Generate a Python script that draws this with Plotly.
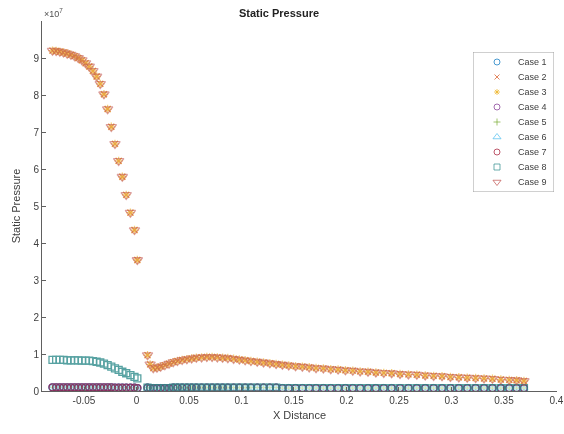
import plotly.graph_objects as go

# Static pressure along the channel, in units of 1e7 Pa (shown as "x10^7" on the axis)
x_upstream = [-0.0800, -0.0765, -0.0730, -0.0695, -0.0660, -0.0625, -0.0590, -0.0555,
              -0.0520, -0.0485, -0.0450, -0.0415, -0.0380, -0.0345, -0.0310, -0.0275,
              -0.0240, -0.0205, -0.0170, -0.0135, -0.0098, -0.0058, -0.0019, 0.0008]

x_downstream = [0.0105, 0.013, 0.016, 0.0195, 0.023, 0.027, 0.031, 0.035, 0.039, 0.0435,
                0.048, 0.0525, 0.057, 0.062, 0.067, 0.072, 0.077, 0.082, 0.087, 0.0925,
                0.098, 0.1035, 0.109, 0.115, 0.121, 0.127, 0.133, 0.139, 0.145, 0.1515,
                0.158, 0.1645, 0.171, 0.178, 0.185, 0.192, 0.199, 0.206, 0.213, 0.2205,
                0.228, 0.2355, 0.243, 0.251, 0.259, 0.267, 0.275, 0.283, 0.291, 0.299,
                0.307, 0.315, 0.323, 0.331, 0.339, 0.347, 0.355, 0.362, 0.369]

# High-pressure cases (2, 3, 9)
p_high_up = [9.20, 9.19, 9.17, 9.15, 9.12, 9.09, 9.05, 9.00, 8.94, 8.86, 8.77, 8.65,
             8.50, 8.30, 8.02, 7.62, 7.14, 6.68, 6.22, 5.79, 5.30, 4.82, 4.35, 3.54]
p_high_down = [0.97, 0.72, 0.62, 0.63, 0.66, 0.70, 0.74, 0.78, 0.81, 0.84,
               0.86, 0.88, 0.90, 0.91, 0.92, 0.92, 0.91, 0.90, 0.89, 0.87,
               0.85, 0.83, 0.81, 0.79, 0.77, 0.75, 0.73, 0.71, 0.69, 0.67,
               0.66, 0.64, 0.62, 0.61, 0.59, 0.58, 0.56, 0.55, 0.53, 0.52,
               0.50, 0.49, 0.48, 0.46, 0.45, 0.44, 0.42, 0.41, 0.40, 0.38,
               0.37, 0.36, 0.35, 0.34, 0.33, 0.31, 0.30, 0.29, 0.27]

# Intermediate case (8)
p_mid_up = [0.84, 0.84, 0.84, 0.84, 0.83, 0.83, 0.83, 0.83, 0.82, 0.82, 0.82, 0.81,
            0.79, 0.77, 0.74, 0.70, 0.66, 0.61, 0.57, 0.52, 0.48, 0.43, 0.38, 0.34]

# Low-pressure cases (1, 4, 5, 6, 7)
p_low_up = [0.10, 0.10, 0.10, 0.10, 0.10, 0.10, 0.10, 0.10, 0.10, 0.10, 0.10, 0.10,
            0.10, 0.10, 0.10, 0.10, 0.10, 0.09, 0.09, 0.09, 0.09, 0.09, 0.09, 0.08]
p_low_down = [0.09, 0.08, 0.08, 0.08, 0.08, 0.08, 0.08, 0.09, 0.09, 0.09,
              0.09, 0.09, 0.09, 0.09, 0.09, 0.09, 0.09, 0.09, 0.09, 0.09,
              0.09, 0.09, 0.09, 0.09, 0.09, 0.09, 0.09, 0.08, 0.08, 0.08,
              0.08, 0.08, 0.08, 0.08, 0.08, 0.08, 0.08, 0.08, 0.08, 0.08,
              0.08, 0.08, 0.08, 0.08, 0.08, 0.08, 0.08, 0.08, 0.08, 0.08,
              0.08, 0.08, 0.08, 0.08, 0.08, 0.08, 0.08, 0.08, 0.08]

case_names = ["Case 1", "Case 2", "Case 3", "Case 4", "Case 5",
              "Case 6", "Case 7", "Case 8", "Case 9"]
case_colors = ["#0072BD", "#D95319", "#EDB120", "#7E2F8E", "#77AC30",
               "#4DBEEE", "#A2142F", "#2E8B8B", "#C0504D"]
case_symbols = ["circle-open", "x-thin-open", "asterisk-open", "circle-open", "cross-thin-open",
                "triangle-up-open", "circle-open", "square-open", "triangle-down-open"]
case_sizes = [7, 6, 7, 7, 5, 7, 7, 7, 9]
case_opacity = [0.75, 0.6, 0.6, 0.75, 0.35, 0.4, 0.55, 0.8, 0.55]

case_up = [p_low_up, p_high_up, p_high_up, p_low_up, p_low_up,
           p_low_up, p_low_up, p_mid_up, p_high_up]
case_down = [p_low_down, p_high_down, p_high_down, p_low_down, p_low_down,
             p_low_down, p_low_down, p_low_down, p_high_down]

FONT = "Liberation Sans, Arial, sans-serif"
axis_font = dict(family=FONT, size=10, color="#404040")

fig = go.Figure()
for name, color, sym, size, op, up, down in zip(case_names, case_colors, case_symbols,
                                                case_sizes, case_opacity, case_up, case_down):
    fig.add_trace(go.Scatter(
        x=x_upstream + x_downstream,
        y=up + down,
        mode="markers",
        name=name,
        showlegend=False,
        opacity=op,
        marker=dict(symbol=sym, size=size, color=color,
                    line=dict(color=color, width=1.3)),
    ))

# Compact legend box drawn on its own hidden axes (pixel-like coordinates)
LEG_LEFT, LEG_RIGHT, LEG_TOP, LEG_BOTTOM = 473, 554, 52, 192
PLOT_L, PLOT_R, PLOT_T, PLOT_B = 42, 557, 21, 391
row_y = [62 + 15 * i for i in range(len(case_names))]

fig.add_trace(go.Scatter(
    x=[497] * len(case_names), y=row_y, mode="markers", xaxis="x2", yaxis="y2",
    showlegend=False, hoverinfo="skip", cliponaxis=False,
    marker=dict(symbol=case_symbols, size=[6, 5, 5, 6, 5, 7, 6, 6, 7], color=case_colors,
                opacity=0.7, line=dict(color=case_colors, width=1)),
))
for name, y in zip(case_names, row_y):
    fig.add_annotation(text=name, xref="x2", yref="y2", x=516, y=y, xanchor="left",
                       yanchor="middle", showarrow=False,
                       font=dict(family=FONT, size=9, color="#404040"))
fig.add_shape(type="rect", xref="x2", yref="y2", x0=LEG_LEFT, x1=LEG_RIGHT,
              y0=LEG_TOP, y1=LEG_BOTTOM, line=dict(color="#a0a0a0", width=1),
              fillcolor="white", layer="below")

fig.update_layout(
    width=564, height=434,
    margin=dict(l=PLOT_L, r=564 - PLOT_R, t=PLOT_T, b=434 - PLOT_B, autoexpand=False),
    paper_bgcolor="white", plot_bgcolor="white",
    title=dict(text="<b>Static Pressure</b>", x=279 / 564, xanchor="center",
               y=1 - 13 / 434, yanchor="middle",
               font=dict(family=FONT, size=11, color="#222222")),
    xaxis=dict(range=[-0.09, 0.4005], tickvals=[-0.05, 0, 0.05, 0.1, 0.15, 0.2, 0.25, 0.3, 0.35, 0.4],
               ticktext=["-0.05", "0", "0.05", "0.1", "0.15", "0.2", "0.25", "0.3", "0.35", "0.4"],
               ticks="inside", ticklen=4, tickcolor="#606060", showline=True, linecolor="#606060",
               linewidth=1, showgrid=False, zeroline=False, tickfont=axis_font, automargin=False,
               title=dict(text="X Distance", font=dict(family=FONT, size=11, color="#404040"),
                          standoff=6)),
    yaxis=dict(range=[0, 10], tickvals=list(range(10)), ticks="inside", ticklen=4,
               tickcolor="#606060", showline=True, linecolor="#606060", linewidth=1,
               showgrid=False, zeroline=False, tickfont=axis_font, automargin=False,
               title=dict(text="Static Pressure", font=dict(family=FONT, size=11, color="#404040"),
                          standoff=10)),
    xaxis2=dict(domain=[(LEG_LEFT - PLOT_L) / (PLOT_R - PLOT_L), (LEG_RIGHT - PLOT_L) / (PLOT_R - PLOT_L)],
                range=[LEG_LEFT, LEG_RIGHT], anchor="y2", visible=False, fixedrange=True),
    yaxis2=dict(domain=[(PLOT_B - LEG_BOTTOM) / (PLOT_B - PLOT_T), (PLOT_B - LEG_TOP) / (PLOT_B - PLOT_T)],
                range=[LEG_BOTTOM, LEG_TOP], anchor="x2", visible=False, fixedrange=True),
    showlegend=False,
)

fig.add_annotation(text="\u00d710<sup>7</sup>", xref="paper", yref="paper",
                   x=0, y=1, xanchor="left", yanchor="bottom", showarrow=False,
                   font=dict(family=FONT, size=9, color="#505050"))

fig.write_html("out.html")
